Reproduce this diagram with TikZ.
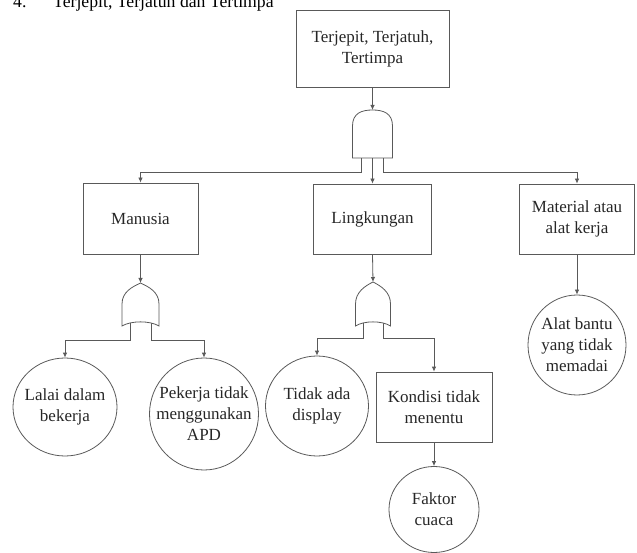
\documentclass[tikz,border=0pt]{standalone}
\usepackage{fontspec}
\setmainfont{Liberation Serif}
\usetikzlibrary{arrows.meta,shapes.geometric}
\begin{document}
\begin{tikzpicture}[x=1pt,y=-1pt,
  ln/.style={draw=black!65, line width=0.8pt},
  arr/.style={ln, -{Latex[length=5pt,width=4.5pt]}},
  txt/.style={font=\fontsize{17}{21}\selectfont, text=black!85, align=center, inner sep=0pt},
  evbox/.style={txt, ln, rectangle, inner sep=0pt},
  evcirc/.style={ln, ellipse, inner sep=0pt},
  gate/.style={ln, fill=white}
]
\useasboundingbox (0,0) rectangle (637,553);

% title (cut off at the top, as in the reference)
\node[anchor=base west, inner sep=0pt, font=\fontsize{17.7}{21}\selectfont] (num) at (13,7.5) {4.};
\node[anchor=base west, inner sep=0pt, font=\fontsize{17.7}{21}\selectfont] (title) at (53,7.5) {Terjepit, Terjatuh dan Tertimpa};

% events (rectangles)
\node[evbox, minimum width=153pt, minimum height=77pt] (top) at (372.5,48.5) {Terjepit, Terjatuh,\\Tertimpa};
\node[evbox, minimum width=115pt, minimum height=71pt] (man) at (140.5,218.5) {Manusia};
\node[evbox, minimum width=118pt, minimum height=70pt] (ling) at (372.5,219) {Lingkungan};
\node[evbox, minimum width=115pt, minimum height=70pt] (mat) at (577,219) {Material atau\\alat kerja};
\node[evbox, minimum width=116pt, minimum height=70pt] (kond) at (434,407) {Kondisi tidak\\menentu};

% basic events (circles)
\node[evcirc, minimum width=104pt, minimum height=98pt] (lalai) at (65,407) {};
\node[txt] (lalaiT) at (lalai.center) {Lalai dalam\\bekerja};
\node[evcirc, minimum width=109pt, minimum height=112pt] (pek) at (204,414) {};
\node[txt] (pekT) at (pek.center) {Pekerja tidak\\menggunakan\\APD};
\node[evcirc, minimum width=103pt, minimum height=100pt] (tidak) at (317,406) {};
\node[txt] (tidakT) at (tidak.center) {Tidak ada\\display};
\node[evcirc, minimum width=98pt, minimum height=100pt] (alat) at (577,345) {};
\node[txt] (alatT) at (alat.center) {Alat bantu\\yang tidak\\memadai};
\node[evcirc, minimum width=90pt, minimum height=86pt] (faktor) at (434,509.5) {};
\node[txt] (faktorT) at (faktor.center) {Faktor\\cuaca};

% gate coordinates
\coordinate (g1top) at (372.5,110);
\coordinate (g1L) at (361,150);
\coordinate (g1C) at (372.5,150);
\coordinate (g1R) at (383,150);
\coordinate (g2top) at (140.5,283);
\coordinate (g2L) at (130,318);
\coordinate (g2R) at (151,318);
\coordinate (g3top) at (373,282);
\coordinate (g3L) at (363,318);
\coordinate (g3R) at (383,318);

% connectors
\draw[arr] (top.south) -- (g1top);
\draw[arr] (g1L) -- ++(0,22) -| (man.north);
\draw[arr] (g1C) -- (g1C |- ling.north);
\draw[arr] (g1R) -- ++(0,22) -| (mat.north);

\draw[arr] (man.south) -- (g2top);
\draw[arr] (g2L) -- ++(0,22) -| (lalai.north);
\draw[arr] (g2R) -- ++(0,22) -| (pek.north);

\draw[arr] (ling.south) -- (g3top);
\draw[arr] (g3L) -- ++(0,20) -| (tidak.north);
\draw[arr] (g3R) -- ++(0,20) -| (kond.north);
\draw[arr] (kond.south) -- (faktor.north);

\draw[arr] (mat.south) -- (alat.north);

% AND gate
\draw[gate] (352.5,158) -- (352.5,126) .. controls (352.5,113) and (362,110) .. (372.5,110)
  .. controls (383,110) and (392.5,113) .. (392.5,126) -- (392.5,158) -- cycle;

% OR gates
\draw[gate] (122,326) -- (122,304) .. controls (122,292) and (132,287) .. (140.5,283)
  .. controls (149,287) and (159,292) .. (159,304) -- (159,326)
  .. controls (150,320.5) and (131,320.5) .. (122,326) -- cycle;
\draw[gate] (355.5,326) -- (355.5,304) .. controls (355.5,292) and (365,286) .. (373,282)
  .. controls (381,286) and (390.5,292) .. (390.5,304) -- (390.5,326)
  .. controls (382,320.5) and (364,320.5) .. (355.5,326) -- cycle;
\end{tikzpicture}
\end{document}
